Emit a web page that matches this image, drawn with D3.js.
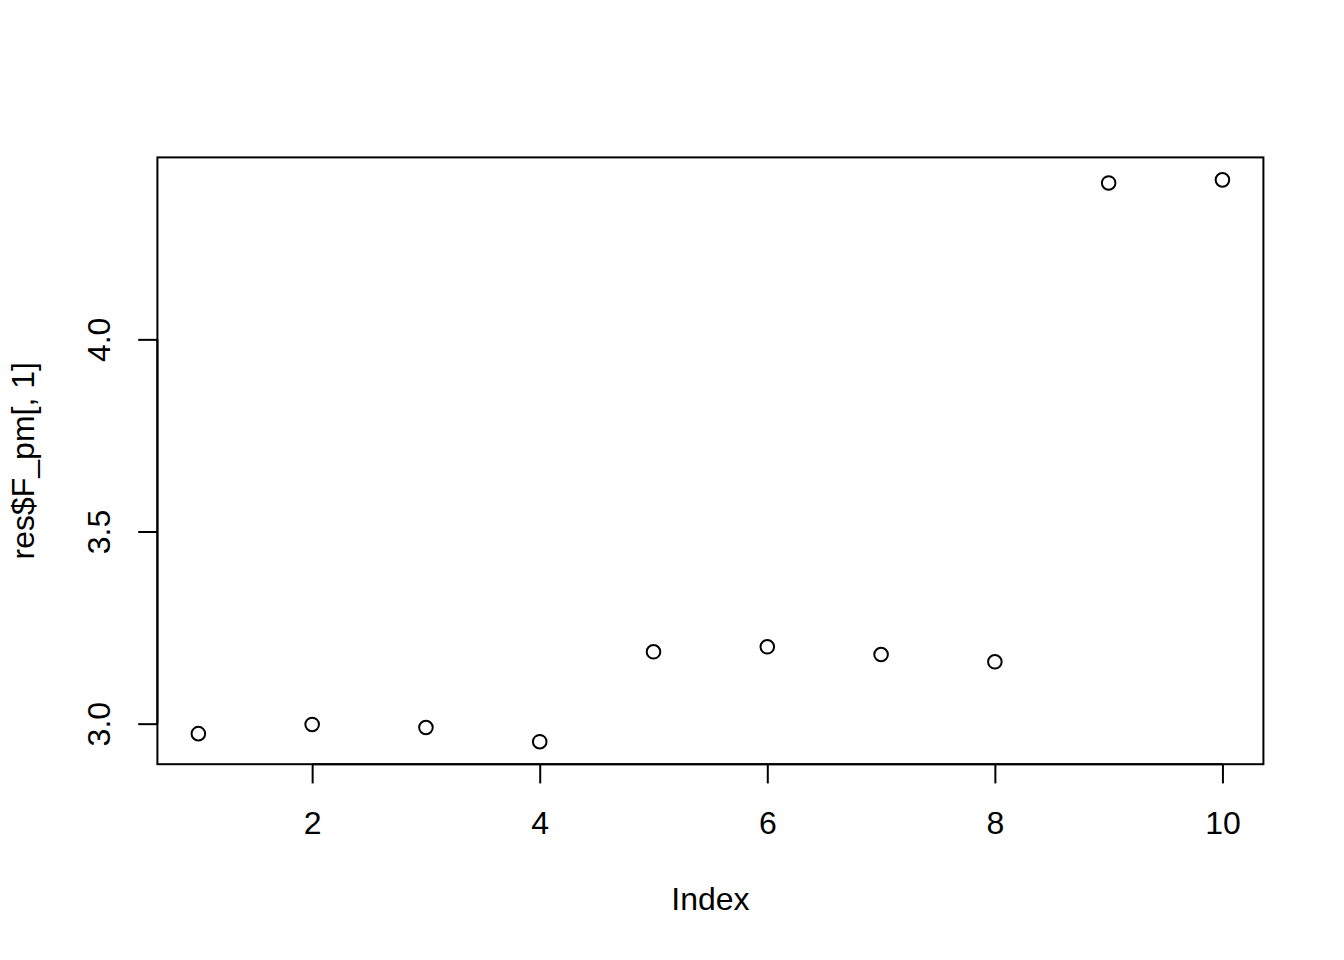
<!DOCTYPE html>
<html><head><meta charset="utf-8">
<script src="https://cdn.jsdelivr.net/npm/d3@7"></script>
<style>body{margin:0;background:#fff}text{font-family:"Liberation Sans",Arial,sans-serif;fill:#000}</style>
</head><body>
<svg id="c" width="1344" height="960"></svg>
<script>
const indexValues = [1,2,3,4,5,6,7,8,9,10];
const fValues = [2.974, 2.998, 2.990, 2.953, 3.187, 3.200, 3.180, 3.161, 4.407, 4.415];
const xTicks = [2,4,6,8,10];
const yTicks = [3.0,3.5,4.0];
const xLabel = "Index";
const yLabel = "res$F_pm[, 1]";

const W=1344,H=960, L=157.4, R=1263.4, T=157.4, B=764.2;
const svg=d3.select("#c");
function ext(a){const lo=d3.min(a),hi=d3.max(a),r=hi-lo;return [lo-0.04*r,hi+0.04*r];}
const x=d3.scaleLinear().domain(ext(indexValues)).range([L,R]);
const y=d3.scaleLinear().domain(ext(fValues)).range([B,T]);

const fs=32;
const xa=svg.append("g").attr("transform",`translate(0,${B})`)
  .call(d3.axisBottom(x).tickValues(xTicks).tickFormat(d3.format("d")).tickSize(19.2).tickPadding(0));
xa.select(".domain").attr("d",`M${x(xTicks[0])},0H${x(xTicks[xTicks.length-1])}`).attr("stroke-width",2);
xa.selectAll(".tick line").attr("stroke-width",2);
xa.selectAll(".tick text").attr("font-size",fs).attr("font-family","Liberation Sans, Arial, sans-serif").attr("dy",null).attr("y",834-B);

const ya=svg.append("g").attr("transform",`translate(${L},0)`)
  .call(d3.axisLeft(y).tickValues(yTicks).tickFormat(d3.format(".1f")).tickSize(19.2).tickPadding(0));
ya.select(".domain").attr("d",`M0,${y(yTicks[0])}V${y(yTicks[yTicks.length-1])}`).attr("stroke-width",2);
ya.selectAll(".tick line").attr("stroke-width",2);
ya.selectAll(".tick text").attr("font-size",fs).attr("font-family","Liberation Sans, Arial, sans-serif")
  .attr("x",null).attr("dy",null).attr("text-anchor","middle")
  .attr("transform",`translate(${110-L},0) rotate(-90)`);

svg.append("rect").attr("x",L).attr("y",T).attr("width",R-L).attr("height",B-T)
  .attr("fill","none").attr("stroke","#000").attr("stroke-width",2);

svg.append("g").selectAll("circle").data(indexValues).join("circle")
  .attr("cx",d=>x(d)).attr("cy",(d,i)=>y(fValues[i])).attr("r",6.8)
  .attr("fill","none").attr("stroke","#000").attr("stroke-width",2);

svg.append("text").attr("x",(L+R)/2).attr("y",910).attr("text-anchor","middle").attr("font-size",fs).text(xLabel);
svg.append("text").attr("transform",`translate(34,${(T+B)/2}) rotate(-90)`).attr("text-anchor","middle").attr("font-size",fs).text(yLabel);
</script>
</body></html>
